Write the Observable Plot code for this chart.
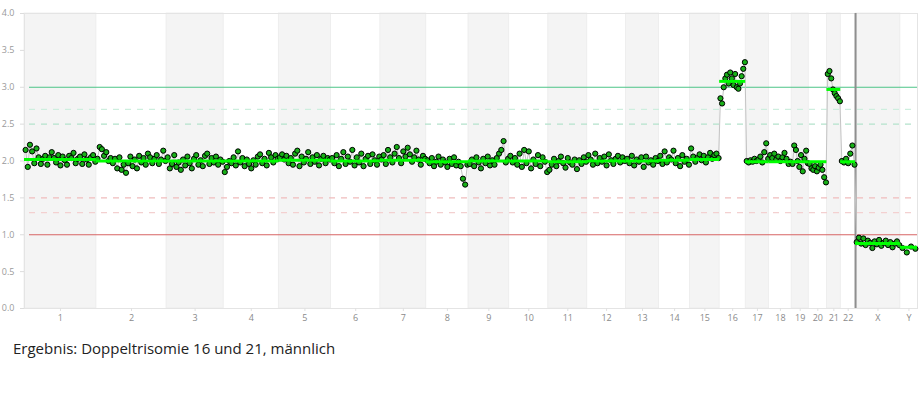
<!DOCTYPE html>
<html>
<head>
<meta charset="utf-8">
<script src="https://cdn.jsdelivr.net/npm/d3@7"></script>
<script src="https://cdn.jsdelivr.net/npm/@observablehq/plot@0.6"></script>
<style>
  html, body { margin: 0; padding: 0; background: #fff; }
  #caption { font-family: "Open Sans", sans-serif; font-size: 15px; color: #222; margin: 10px 0 0 13px; line-height: 20px; }
</style>
</head>
<body>
<div id="chart"></div>
<div id="caption">Ergebnis: Doppeltrisomie 16 und 21, männlich</div>
<script>
const chromNames = ["1","2","3","4","5","6","7","8","9","10","11","12","13","14","15","16","17","18","19","20","21","22","X","Y"];
const chromLengths = [249.25, 243.2, 198.0, 191.2, 180.9, 171.1, 159.1, 146.4, 141.2, 135.5, 135.0, 133.9, 115.2, 107.3, 102.5, 90.4, 81.2, 78.1, 59.1, 63.0, 48.1, 51.3, 155.3, 59.4];
const segmentRatios = [2.02, 2.0, 2.0, 2.0, 2.01, 2.0, 2.01, 1.99, 2.0, 2.0, 1.99, 2.0, 2.0, 2.01, 2.02, 3.08, 1.99, 1.99, 1.99, 1.99, 2.97, 1.99, 0.88, 0.83];
const yTicks = [0, 0.5, 1, 1.5, 2, 2.5, 3, 3.5, 4];

// bin ratios, per chromosome
const r1 = [2.15,1.92,2.22,2.13,1.97,2.17,2.05,1.96,2.03,2.07,1.95,2.05,2.12,2.04,1.98,2.08,1.94,2.06,2.01,1.95,2.07,2.04,2.11,1.97,2.03,2.06,1.96,2.09,2.02,1.95,2.05,2.08,1.99];
const r2 = [2.03,2.19,2.16,2.07,2.12,2.00,2.04,1.97,2.03,1.90,2.05,1.88,1.95,1.84,1.97,2.06,1.93,2.02,1.90,2.07,1.98,2.04,1.95,2.10,2.05,1.97,2.03,2.08,1.96,2.02,2.14,2.00];
const r3 = [2.05,1.90,1.96,2.08,1.92,1.98,1.88,2.02,1.94,2.06,1.97,1.90,2.03,2.08,1.95,2.01,1.93,2.07,2.10,1.96,2.04,1.98,2.06,1.95,2.02,1.99];
const r4 = [1.85,1.92,2.00,1.97,2.05,1.94,2.13,1.98,2.04,1.93,2.02,1.96,1.90,2.01,1.95,2.06,2.09,1.97,2.03,1.94,2.11,2.05,1.98,2.08,2.03];
const r5 = [2.05,2.09,2.02,2.07,1.97,2.04,1.95,2.10,2.14,1.93,2.06,1.98,2.03,2.12,1.96,2.05,1.99,2.08,1.94,2.03,2.07,1.97,2.04,2.02];
const r6 = [2.04,1.97,2.08,1.93,2.03,2.12,1.96,2.06,1.99,2.15,1.94,2.05,1.98,2.10,1.93,2.03,2.07,1.96,2.09,2.01,1.95,2.06];
const r7 = [2.02,2.08,1.96,2.15,2.05,1.98,2.10,2.19,2.04,1.97,2.13,2.06,2.18,2.09,1.99,2.05,2.14,2.02,1.95,2.07,2.03];
const r8 = [2.01,1.97,2.04,1.93,1.99,2.06,1.95,2.02,1.98,1.92,2.03,1.96,2.05,1.94,1.99,1.93,1.76,1.68,1.95];
const r9 = [1.96,2.02,1.93,2.05,1.98,1.90,2.03,1.97,2.06,1.94,2.01,1.95,2.04,2.10,2.15,2.27,1.98,2.03];
const r10 = [2.07,1.98,2.04,1.95,2.10,1.92,2.15,1.97,2.13,1.90,2.02,1.96,2.08,1.93,2.05,1.99,1.85];
const r11 = [1.88,1.95,2.03,1.93,2.00,2.06,1.97,1.91,2.04,1.98,1.95,2.02,1.89,2.01,1.96,2.05,1.99];
const r12 = [2.08,2.02,1.95,2.10,1.97,2.04,1.99,2.06,1.94,2.09,2.01,1.96,2.03,2.07,1.98,2.05,2.00];
const r13 = [2.03,1.97,2.07,1.94,2.02,1.99,2.05,1.92,2.06,1.98,2.01,1.95,2.04,2.00];
const r14 = [2.07,1.96,2.13,1.98,2.05,2.02,2.14,1.97,2.04,1.93,2.08,1.99,2.03,1.95];
const r15 = [2.17,2.06,1.99,2.04,2.09,2.01,2.07,1.98,2.05,2.11,2.03,2.08,2.10,2.04];
const r16 = [2.85,2.78,3.00,3.12,3.17,3.05,3.20,3.12,3.03,3.18,3.00,2.98,3.05,3.15,3.25,3.34];
const r17 = [2.00,1.98,2.01,1.99,2.03,2.00,2.02,2.06,1.98,2.12,2.24,2.03];
const r18 = [2.08,2.04,2.10,2.02,2.06,2.00,2.05,2.11,2.03,1.96,1.99];
const r19 = [1.96,2.21,2.15,2.00,1.92,2.08,1.86,2.03,2.14,1.97];
const r20 = [1.96,1.90,1.88,1.93,1.86,1.91,1.95,1.88,1.78,1.71];
const r21 = [3.18,3.22,3.12,2.97,2.92,2.88,2.85,2.81];
const r22 = [2.00,1.98,2.03,1.97,2.10,2.21,1.95];
const rX = [0.90,0.96,0.88,0.95,0.86,0.92,0.89,0.82,0.91,0.87,0.93,0.85,0.89,0.92,0.86,0.90,0.83,0.88,0.91,0.86];
const rY = [0.82,0.76,0.84,0.81];
const ratioLists = [r1,r2,r3,r4,r5,r6,r7,r8,r9,r10,r11,r12,r13,r14,r15,r16,r17,r18,r19,r20,r21,r22,rX,rY];

// build tables
let acc = 0;
const chroms = chromNames.map((name, i) => {
  const start = acc;
  acc += chromLengths[i];
  return {name, start, end: acc, mid: (start + acc) / 2, seg: segmentRatios[i], shaded: (i % 2 === 0) || name === "X"};
});
const total = acc;
const points = [];
chroms.forEach((c, i) => {
  const vals = ratioLists[i];
  const n = vals.length;
  vals.forEach((v, j) => points.push({x: c.start + (j + 0.5) / n * (c.end - c.start), v}));
});
const xStart = chroms.find(c => c.name === "X").start;

const refSolid = [{v: 3.0, c: "#4cc487"}, {v: 1.0, c: "#d76464"}];
const refDashed = [{v: 2.7, c: "#cdeede"}, {v: 2.5, c: "#b4e2cc"}, {v: 1.5, c: "#efbcbc"}, {v: 1.3, c: "#f3d0d0"}];

const chart = Plot.plot({
  width: 919,
  height: 328,
  marginLeft: 24,
  marginRight: 2,
  marginTop: 13,
  marginBottom: 20,
  style: {fontFamily: "Open Sans, sans-serif", background: "#fff"},
  x: {domain: [0, total], axis: null},
  y: {domain: [0, 4], axis: null},
  marks: [
    Plot.rect(chroms.filter(d => d.shaded), {x1: "start", x2: "end", fill: "#f4f4f4", stroke: "#ebebeb", strokeWidth: 0.8}),
    Plot.frame({stroke: "#e4e4e4"}),
    Plot.ruleY(refDashed, {y: "v", stroke: "c", strokeWidth: 1.2, strokeDasharray: "6,6", insetLeft: 5}),
    Plot.ruleY(refSolid, {y: "v", stroke: "c", strokeWidth: 1.2, insetLeft: 5}),
    Plot.ruleX([xStart], {stroke: "#8e8e8e", strokeWidth: 2}),
    Plot.line(points, {x: "x", y: "v", stroke: "#c4c4c4", strokeWidth: 1}),
    Plot.dot(points, {x: "x", y: "v", r: 2.6, fill: "#18b018", stroke: "#000", strokeWidth: 1}),
    Plot.ruleY(chroms, {y: "seg", x1: "start", x2: "end", stroke: "#00ff00", strokeWidth: 3}),
    Plot.axisY({ticks: yTicks, tickFormat: d3.format(".1f"), tickSize: 4, tickPadding: 6, stroke: "#dcdcdc", fill: "#9a9a9a", fontSize: 9}),
    Plot.axisX({ticks: chroms.map(d => d.mid), tickFormat: () => "", tickSize: 3, stroke: "#e0e0e0"}),
    Plot.text(chroms, {x: "mid", text: "name", frameAnchor: "bottom", dy: 10, fill: "#8a8a8a", fontSize: 9, lineAnchor: "middle"})
  ]
});
document.getElementById("chart").appendChild(chart);
</script>
</body>
</html>
